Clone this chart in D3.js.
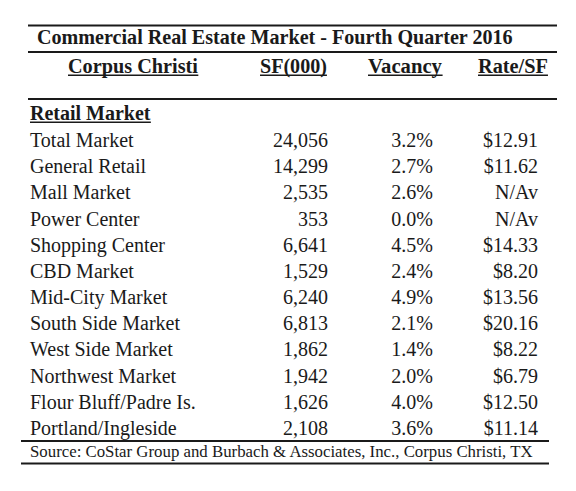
<!DOCTYPE html>
<html><head><meta charset="utf-8">
<script src="https://cdn.jsdelivr.net/npm/d3@7"></script>
<style>html,body{margin:0;padding:0;background:#fff;}svg{display:block;}</style>
</head><body>
<script>
const title = "Commercial Real Estate Market - Fourth Quarter 2016";
const headers = ["Corpus Christi", "SF(000)", "Vacancy", "Rate/SF"];
const section = "Retail Market";
const categories = ["Total Market","General Retail","Mall Market","Power Center","Shopping Center","CBD Market","Mid-City Market","South Side Market","West Side Market","Northwest Market","Flour Bluff/Padre Is.","Portland/Ingleside"];
const sf = [24056,14299,2535,353,6641,1529,6240,6813,1862,1942,1626,2108];
const vacancy = [3.2,2.7,2.6,0.0,4.5,2.4,4.9,2.1,1.4,2.0,4.0,3.6];
const rate = [12.91,11.62,null,null,14.33,8.20,13.56,20.16,8.22,6.79,12.50,11.14];
const source = "Source: CoStar Group and Burbach & Associates, Inc., Corpus Christi, TX";

const W = 576, H = 491;
const font = "'Liberation Serif','Times New Roman',serif";
const ink = "#1a1a1a";
const svg = d3.select("body").append("svg").attr("width", W).attr("height", H)
  .style("font-family", font);

const y = d3.scaleLinear().domain([0, categories.length - 1]).range([147, 435]);
const fmtSF = d3.format(",");
const fmtVac = d => d3.format(".1f")(d) + "%";
const fmtRate = d => d == null ? "N/Av" : "$" + d3.format(".2f")(d);

function fit(sel, target) {
  const w = sel.node().getComputedTextLength();
  const fs = parseFloat(sel.attr("font-size"));
  sel.attr("font-size", fs * target / w);
}
function hline(x1, x2, yy, sw) {
  svg.append("line").attr("x1", x1).attr("x2", x2).attr("y1", yy).attr("y2", yy)
    .attr("stroke", ink).attr("stroke-width", sw);
}
function underline(sel, dy) {
  const b = sel.node().getBBox();
  const base = +sel.attr("y");
  hline(b.x, b.x + b.width, base + dy, 1.4);
}

// rules
hline(28, 557, 25.5, 2);
hline(28, 557, 52, 2);
hline(28, 557, 99, 2);
hline(21, 549, 441, 2);
hline(21, 549, 463.5, 2);

// title
const t = svg.append("text").attr("x", 37).attr("y", 44).attr("font-size", 18)
  .attr("font-weight", "bold").attr("fill", ink).text(title);
fit(t, 476);

// headers
const hdrPos = [{x: 68, w: 130}, {x: 260, w: 67}, {x: 368, w: 74}, {x: 478, w: 70}];
headers.forEach((h, i) => {
  const s = svg.append("text").attr("x", hdrPos[i].x).attr("y", 73)
    .attr("font-size", 20).attr("font-weight", "bold").attr("fill", ink).text(h);
  fit(s, hdrPos[i].w);
  underline(s, 2.2);
});

// section
const sec = svg.append("text").attr("x", 30).attr("y", 120).attr("font-size", 20)
  .attr("font-weight", "bold").attr("fill", ink).text(section);
underline(sec, 2.2);

// rows
const rows = svg.append("g").attr("font-size", 20).attr("fill", ink);
const cols = [
  {x: 30, anchor: "start", val: (d, i) => categories[i]},
  {x: 328, anchor: "end", val: (d, i) => fmtSF(sf[i])},
  {x: 433, anchor: "end", val: (d, i) => fmtVac(vacancy[i])},
  {x: 538, anchor: "end", val: (d, i) => fmtRate(rate[i])}
];
cols.forEach(c => {
  rows.selectAll(null).data(categories).join("text")
    .attr("x", c.x).attr("y", (d, i) => y(i))
    .attr("text-anchor", c.anchor).text(c.val);
});

// source
const src = svg.append("text").attr("x", 30).attr("y", 457).attr("font-size", 17)
  .attr("fill", ink).text(source);
fit(src, 503);
</script>
</body></html>
